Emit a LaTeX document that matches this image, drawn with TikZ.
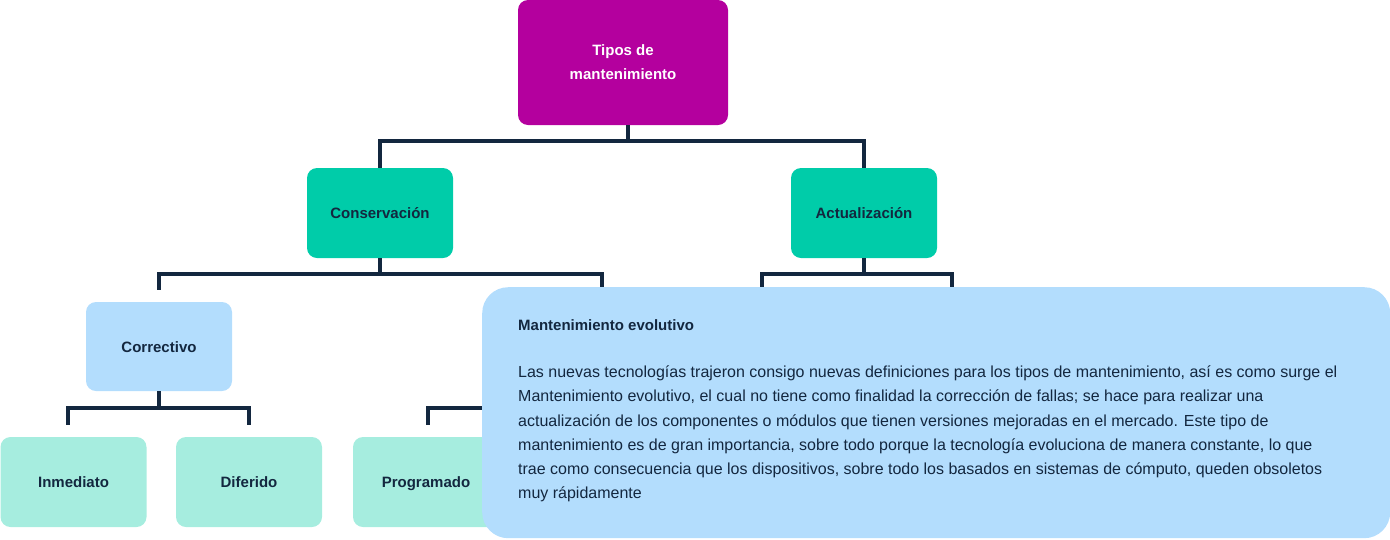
\documentclass[tikz,border=0pt]{standalone}
\usepackage{fontspec}
\setmainfont{Liberation Sans}
\usetikzlibrary{positioning}
\definecolor{navy}{HTML}{13273F}
\definecolor{magenta}{HTML}{B4009E}
\definecolor{teal}{HTML}{00CCA9}
\definecolor{sky}{HTML}{B3DDFD}
\definecolor{mint}{HTML}{A6EDDF}
\tikzset{
  box/.style={rounded corners=10pt, minimum width=146pt, minimum height=90pt,
    inner sep=0pt, align=center, text=navy, font=\bfseries\fontsize{15}{24}\selectfont},
  rootbox/.style={box, fill=magenta, text=white, minimum width=210pt, minimum height=125pt},
  leafbox/.style={box, text height=11pt, text depth=0pt},
  levelone/.style={leafbox, fill=teal},
  leveltwo/.style={leafbox, fill=sky, minimum height=89pt},
  levelthree/.style={leafbox, fill=mint},
  link/.style={draw=navy, line width=4pt}
}
\begin{document}
\begin{tikzpicture}[x=1pt,y=-1pt]
  \useasboundingbox (0,0) rectangle (1390,539);
  % nodes
  \node[rootbox] (tipos) at (623,62.5) {Tipos de\\mantenimiento};
  \node[levelone] (cons) at (380,213) {Conservación};
  \node[levelone] (actu) at (864,213) {Actualización};
  \node[leveltwo] (corr) at (159,346.5) {Correctivo};
  \node[levelthree] (inme) at (73.5,482) {Inmediato};
  \node[levelthree] (dife) at (249,482) {Diferido};
  \node[levelthree] (prog) at (426,482) {Programado};
  \coordinate (prevtop) at (602,302);
  \coordinate (prevbot) at (602,391);
  \coordinate (evola) at (762,302);
  \coordinate (evolb) at (952,302);
  \coordinate (hidden) at (776,425);
  % connectors
  \draw[link] ([xshift=5pt]tipos.south) -- ++(0,16) -| (cons.north);
  \draw[link] ([xshift=5pt]tipos.south) -- ++(0,16) -| (actu.north);
  \draw[link] (cons.south) -- ++(0,16) -| ([yshift=12pt]corr.north);
  \draw[link] (cons.south) -- ++(0,16) -| (prevtop);
  \draw[link] (actu.south) -- ++(0,16) -| (evola);
  \draw[link] (actu.south) -- ++(0,16) -| (evolb);
  \draw[link] (corr.south) -- ++(0,17) -| ([yshift=12pt,xshift=-6pt]inme.north);
  \draw[link] (corr.south) -- ++(0,17) -| ([yshift=12pt]dife.north);
  \draw[link] (prevbot) -- ++(0,17) -| ([yshift=12pt,xshift=2pt]prog.north);
  \draw[link] (prevbot) -- ++(0,17) -| (hidden);
  % info panel
  \node[fill=sky, rounded corners=26pt, minimum width=908pt, minimum height=251pt,
    inner sep=0pt, anchor=north west] (panel) at (482,287) {};
  \node[anchor=base west, inner sep=0pt, text=navy,
    font=\bfseries\fontsize{15}{24}\selectfont] (paneltitle) at (518,330) {Mantenimiento evolutivo};
  \node[anchor=north west, inner sep=0pt, align=left, text=navy,
    font=\fontsize{16}{24.3}\selectfont] (paneltext) at (518,365.5)
    {Las nuevas tecnologías trajeron consigo nuevas definiciones para los tipos de mantenimiento, así es como surge el\\
     Mantenimiento evolutivo, el cual no tiene como finalidad la corrección de fallas; se hace para realizar una\\
     actualización de los componentes o módulos que tienen versiones mejoradas en el mercado. Este tipo de\\
     mantenimiento es de gran importancia, sobre todo porque la tecnología evoluciona de manera constante, lo que\\
     trae como consecuencia que los dispositivos, sobre todo los basados en sistemas de cómputo, queden obsoletos\\
     muy rápidamente};
\end{tikzpicture}
\end{document}
